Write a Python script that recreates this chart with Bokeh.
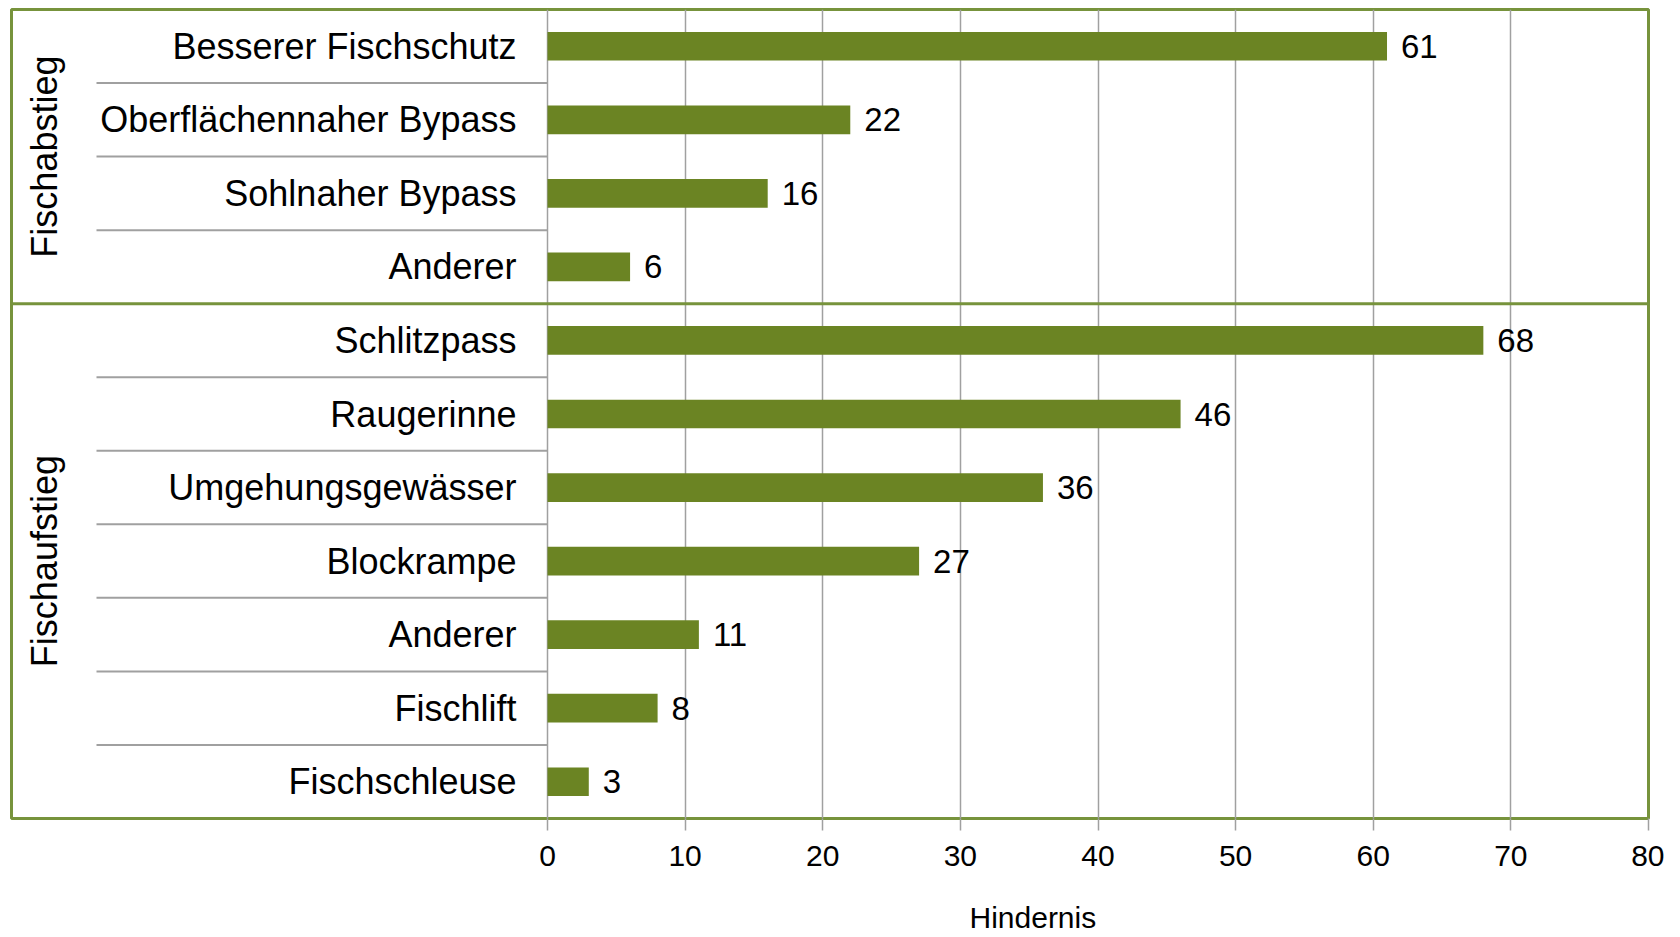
from math import pi
from bokeh.plotting import figure
from bokeh.models import FactorRange, Range1d, FixedTicker, ColumnDataSource, Title
from bokeh.core.properties import value
from bokeh.embed import file_html
from bokeh.resources import INLINE

# ---------------- data ----------------
groups = ["Fischabstieg", "Fischaufstieg"]
abstieg_cats = ["Besserer Fischschutz", "Oberflächennaher Bypass", "Sohlnaher Bypass", "Anderer"]
abstieg_vals = [61, 22, 16, 6]
aufstieg_cats = ["Schlitzpass", "Raugerinne", "Umgehungsgewässer", "Blockrampe",
                 "Anderer", "Fischlift", "Fischschleuse"]
aufstieg_vals = [68, 46, 36, 27, 11, 8, 3]
x_ticks = [0, 10, 20, 30, 40, 50, 60, 70, 80]
x_title = "Hindernis"

# ---------------- style ----------------
FONT = "Liberation Sans"
BAR = "#6b8423"
FRAME_GREEN = "#77933c"
GRID = "#a0a0a0"
FRAME_W = 1637           # frame width in px
LABEL_PX = 536           # px of label area left of x=0
SEP_PX = 451             # px of separator lines left of x=0
TITLE_LEFT_PX = 958      # axis title left edge, px from frame left
TITLE_TOP_PAD = 30       # empty space between tick labels and axis title
X_MAX = x_ticks[-1]
PX_PER_UNIT = (FRAME_W - LABEL_PX) / X_MAX
x_start = -LABEL_PX / PX_PER_UNIT
sep_left = -SEP_PX / PX_PER_UNIT

group_items = [(groups[0], abstieg_cats, abstieg_vals), (groups[1], aufstieg_cats, aufstieg_vals)]

top_down = []
vals = []
for g, cats, vs in group_items:
    for c, v in zip(cats, vs):
        top_down.append((g, c))
        vals.append(v)

src = ColumnDataSource(dict(
    y=top_down,
    v=vals,
    cat=[c for _, c in top_down],
    lbl=[str(v) for v in vals],
))

p = figure(width=1664, height=937,
           x_range=Range1d(x_start, X_MAX),
           y_range=FactorRange(factors=list(reversed(top_down)), factor_padding=0,
                               group_padding=0, range_padding=0),
           y_axis_location=None, toolbar_location=None, output_backend="svg",
           min_border_left=11, min_border_right=16, min_border_top=9, min_border_bottom=119)

p.background_fill_color = "white"
p.border_fill_color = "white"
p.outline_line_color = FRAME_GREEN
p.outline_line_width = 3

p.xaxis.ticker = FixedTicker(ticks=x_ticks)
p.xgrid.ticker = FixedTicker(ticks=x_ticks)
p.xgrid.grid_line_color = GRID
p.xgrid.grid_line_width = 1.5
p.ygrid.grid_line_color = None

ax = p.xaxis[0]
ax.axis_line_color = None
ax.major_tick_line_color = GRID
ax.major_tick_line_width = 1.5
ax.major_tick_out = 12
ax.major_tick_in = 0
ax.minor_tick_line_color = None
ax.major_label_text_font = FONT
ax.major_label_text_font_size = "30px"
ax.major_label_text_color = "black"
ax.major_label_standoff = 15

# axis title, positioned like the reference (padding order: left, right, top, bottom)
p.add_layout(Title(text=x_title, align="left", offset=TITLE_LEFT_PX, standoff=0,
                   padding=(0, 0, TITLE_TOP_PAD, 0),
                   text_font=FONT, text_font_size="30px", text_font_style="normal",
                   text_color="black"), "below")

# separators in label area (within groups)
sx0, sx1, sy = [], [], []
for g, cats, vs in group_items:
    for c in cats[1:]:
        sx0.append(sep_left)
        sx1.append(0)
        sy.append((g, c, 0.5))
p.segment(x0=sx0, x1=sx1, y0=sy, y1=sy, line_color=GRID, line_width=2)

# group divider
g2, cats2, _ = group_items[1]
p.segment(x0=[x_start], x1=[X_MAX], y0=[(g2, cats2[0], 0.5)], y1=[(g2, cats2[0], 0.5)],
          line_color=FRAME_GREEN, line_width=3)

# bars
p.hbar(y="y", left=0, right="v", height=0.39, source=src, fill_color=BAR, line_color=None)

# value labels
p.text(x="v", y="y", text="lbl", source=src, x_offset=14, text_align="left",
       text_baseline="middle", text_font=value(FONT), text_font_size="33px", text_color="black")

# category labels
p.text(x=0, y="y", text="cat", source=src, x_offset=-31, text_align="right",
       text_baseline="middle", text_font=value(FONT), text_font_size="36px", text_color="black")

# group labels
gy = []
for g, cats, vs in group_items:
    n = len(cats)
    gy.append((g, cats[n // 2], 0.5 if n % 2 == 0 else 0))
p.text(x=[x_start, x_start], y=gy, text=groups, x_offset=33, angle=pi / 2,
       text_align="center", text_baseline="middle", text_font=value(FONT),
       text_font_size="36px", text_color="black")

open("out.html", "w").write(file_html(p, INLINE))
